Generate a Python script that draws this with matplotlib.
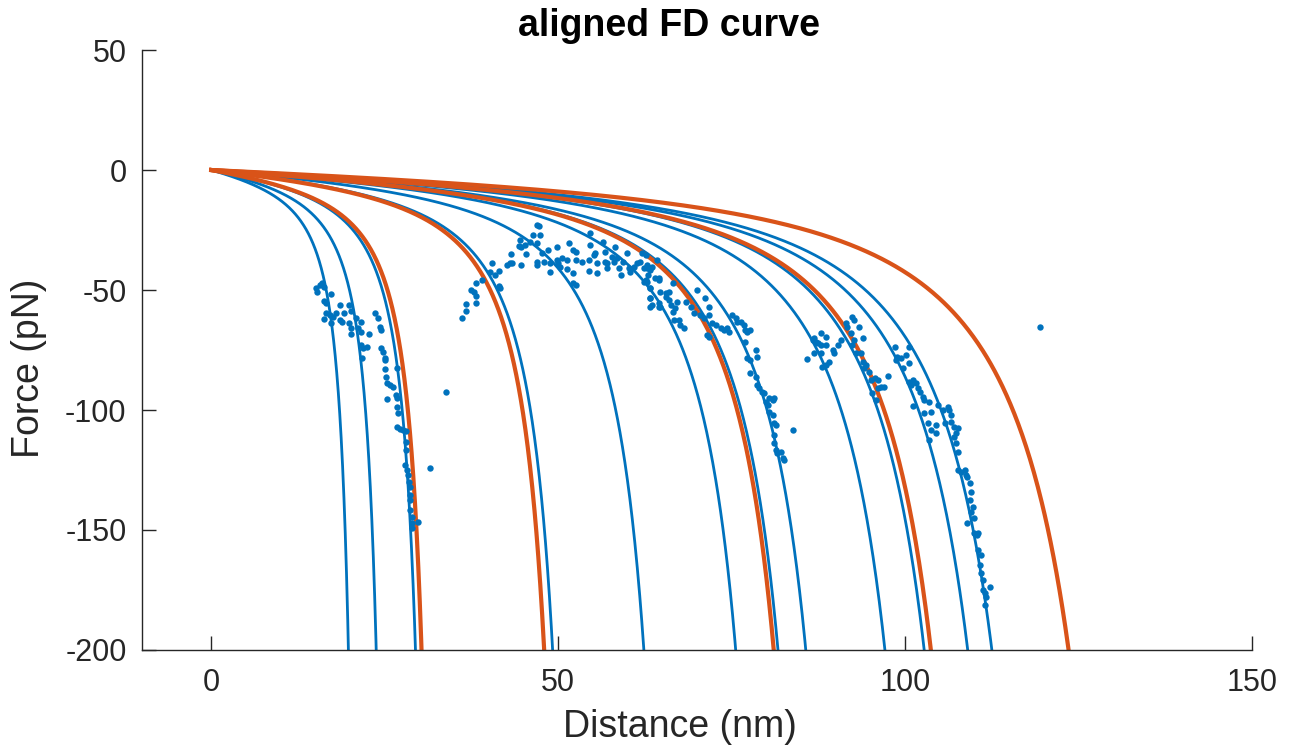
import numpy as np
import matplotlib

matplotlib.use("Agg")
import matplotlib.pyplot as plt

plt.rcParams['font.family'] = ['Liberation Sans', 'DejaVu Sans']
plt.rcParams['axes.unicode_minus'] = False

# measured force-distance points (nm, pN)
dist_nm = [
    15.1, 15.6, 16.0, 16.3, 15.3, 17.3, 16.2, 16.5, 18.5, 19.9, 16.6, 17.1, 16.2, 17.5, 17.3,
    18.0, 18.5, 18.9, 19.2, 20.2, 20.9, 21.6, 19.9, 20.2, 20.2, 21.1, 21.6, 22.8, 21.6, 21.8,
    22.4, 21.7, 23.6, 24.0, 24.3, 24.5, 24.5, 24.7, 25.1, 25.0, 25.1, 26.7, 25.2, 25.4, 25.7,
    26.2, 26.6, 26.7, 25.3, 26.7, 26.9, 26.7, 27.2, 27.6, 28.1, 28.0, 28.0, 27.9, 28.2, 28.3,
    28.5, 28.6, 28.6, 28.7, 28.7, 28.9, 28.9, 28.9, 29.8, 31.5, 33.8,
    36.1, 36.7, 36.7, 37.5, 37.8, 38.2, 38.2, 38.2, 39.0, 40.2, 40.5, 40.9, 41.4, 41.4, 41.6,
    42.6, 43.1, 43.3, 43.2, 44.7, 44.3, 44.5, 44.7, 45.2, 45.4, 46.0, 46.4, 46.9, 47.2, 46.9,
    47.4, 46.9, 46.9, 47.6, 47.9, 48.6, 48.8, 48.8, 49.8, 49.8, 50.0, 50.3, 50.5, 51.3, 51.5,
    51.3, 52.2, 52.5, 52.2, 52.5, 52.2, 52.5, 53.4, 54.4, 54.4, 54.6, 54.6, 55.1, 55.3, 55.6,
    55.6, 56.5, 56.8, 56.8, 57.0, 57.0, 57.8, 58.0, 58.2, 58.5, 58.7, 59.0, 59.4, 59.9, 60.2,
    60.4, 60.9, 61.4, 61.8, 62.1, 62.3, 62.6, 62.8, 63.0, 63.3, 63.3, 63.3, 63.5, 64.0, 64.3,
    64.5, 64.5,
    62.6, 62.8, 63.3, 63.5, 62.3, 62.8, 63.3, 64.5, 64.7, 65.5, 66.0, 66.5, 63.3, 63.3, 64.5,
    64.7, 65.5, 66.0, 66.2, 66.5, 66.9, 67.2, 68.4, 69.1, 66.7, 67.4, 67.6, 68.1, 69.6, 70.0,
    70.5, 71.0, 71.2, 71.7, 71.7, 71.5, 71.7, 72.2, 72.7, 73.4, 73.9, 74.4, 74.6, 75.1, 75.6,
    75.8, 76.3, 76.8, 77.0, 77.2, 77.7, 77.0, 77.2, 77.7, 78.5, 78.7, 77.7, 78.5, 78.7, 79.0,
    79.4, 79.7, 80.0, 80.2, 80.4, 80.9, 81.1, 80.4, 80.9, 81.1, 81.4, 81.1, 81.1, 81.4, 81.6,
    82.1, 82.4, 82.6, 83.8,
    85.9, 86.7, 86.9, 87.1, 86.9, 87.4, 87.9, 87.9, 87.9, 88.6, 88.6, 88.1, 88.6, 89.1, 89.6,
    89.8, 90.3, 90.8, 91.5, 91.7, 92.4, 92.7, 93.4, 92.2, 92.7, 93.9, 92.4, 92.9, 93.6, 93.9,
    94.1, 94.4, 94.8, 95.1, 95.6, 96.1, 96.5, 97.0, 97.5, 95.3, 95.8, 96.1,
    98.5, 98.7, 98.9, 99.4, 99.7, 100.1, 100.6, 100.6, 100.6, 100.9, 101.1, 101.6, 101.8, 102.1,
    102.6, 102.8, 101.1, 103.5, 103.8, 102.8, 103.3, 103.8, 103.5, 104.5, 104.5, 104.7, 105.4,
    105.7, 106.2, 106.4, 106.6, 106.6, 107.1, 107.4, 107.6, 107.1, 107.4, 107.6, 107.6, 108.1,
    108.6, 108.8, 109.0, 109.3, 109.5, 109.3, 109.8, 109.5, 109.0, 110.0, 110.0, 110.3, 110.5,
    110.5, 111.0, 110.8, 111.0, 111.3, 111.3, 111.5, 112.2, 111.7, 111.5,
    119.5,
]
force_pN = [
    -49.2, -47.9, -47.1, -48.8, -50.8, -51.7, -54.6, -55.4, -56.3, -56.3, -59.6, -60.4, -62.1, -61.3, -63.8,
    -59.6, -62.5, -63.3, -59.6, -58.8, -61.7, -63.3, -63.8, -65.8, -68.3, -65.8, -67.5, -68.3, -72.9, -74.2,
    -73.8, -78.3, -59.6, -61.7, -65.4, -66.7, -74.2, -75.8, -78.3, -79.2, -82.9, -82.5, -86.3, -88.8, -89.6,
    -90.4, -93.8, -95.0, -95.4, -98.8, -101.3, -107.1, -107.9, -108.3, -108.8, -113.3, -116.7, -122.9, -125.0, -127.1,
    -130.0, -132.1, -135.4, -137.5, -141.7, -144.6, -147.1, -149.2, -146.7, -124.2, -92.5,
    -61.8, -58.8, -56.0, -50.0, -50.7, -52.5, -55.3, -47.0, -45.8, -42.4, -38.9, -43.8, -42.1, -48.3, -49.3,
    -39.6, -38.9, -38.6, -35.1, -39.6, -31.5, -29.2, -32.0, -31.3, -35.1, -29.9, -27.1, -22.9, -23.3, -30.5,
    -27.1, -38.2, -39.6, -34.7, -38.2, -33.3, -42.4, -38.9, -32.0, -37.5, -38.9, -40.3, -36.8, -37.5, -30.3,
    -41.4, -33.3, -34.0, -43.0, -37.5, -47.2, -47.9, -38.2, -37.5, -42.1, -31.3, -26.4, -35.4, -34.7, -38.9,
    -43.0, -29.9, -34.0, -38.2, -38.9, -41.0, -36.1, -38.2, -32.0, -36.8, -41.0, -43.8, -38.2, -34.7, -41.0,
    -42.4, -40.3, -38.9, -38.2, -34.7, -41.0, -45.8, -39.6, -43.8, -41.0, -49.3, -53.5, -56.3, -45.1, -37.5,
    -57.0, -45.8,
    -35.4, -41.0, -41.7, -40.3, -46.5, -46.5, -49.3, -45.1, -50.7, -51.4, -50.7, -47.2, -53.5, -57.0, -55.5,
    -57.0, -52.8, -54.2, -56.3, -59.0, -57.6, -54.9, -54.9, -57.0, -62.5, -62.5, -64.6, -66.0, -59.7, -50.0,
    -60.4, -61.8, -53.5, -57.0, -60.4, -68.8, -69.4, -63.9, -64.6, -66.0, -66.7, -66.0, -67.4, -60.4, -61.8,
    -63.2, -63.2, -64.6, -66.7, -67.4, -66.7, -71.5, -78.5, -79.2, -75.0, -77.8, -84.7, -86.1, -89.6, -91.0,
    -92.4, -93.1, -96.5, -97.9, -95.1, -95.8, -95.1, -100.7, -102.1, -105.5, -106.3, -110.4, -113.9, -116.7, -118.1,
    -117.4, -120.1, -120.8, -108.3,
    -78.9, -70.8, -70.1, -71.5, -76.1, -72.2, -68.1, -72.9, -76.4, -69.5, -72.9, -82.0, -81.3, -79.9, -75.0,
    -76.4, -72.9, -70.8, -63.9, -65.3, -61.1, -62.5, -65.3, -68.1, -70.8, -70.1, -72.9, -76.4, -76.4, -79.9,
    -82.6, -81.3, -84.0, -87.5, -86.8, -87.5, -90.3, -90.3, -85.8, -93.1, -95.8, -91.0,
    -73.6, -79.2, -77.8, -78.5, -82.6, -77.1, -73.6, -80.5, -88.2, -89.6, -87.5, -88.9, -91.0, -92.4,
    -94.4, -95.8, -98.3, -96.5, -100.7, -101.4, -105.5, -108.3, -112.5, -106.3, -109.7, -97.9, -100.0,
    -105.5, -98.6, -100.0, -102.1, -104.9, -106.9, -109.7, -107.6, -111.1, -113.9, -117.4, -125.0, -125.7,
    -125.0, -127.1, -127.8, -130.5, -134.0, -137.5, -140.3, -142.4, -147.2, -145.1, -151.4, -152.1, -151.4,
    -158.3, -160.4, -164.6, -168.1, -170.8, -175.0, -176.4, -173.6, -177.8, -181.3,
    -65.4,
]

# worm-like chain fits: contour lengths (nm)
blue_Lc = [22.7, 27.3, 33.8, 56.5, 71.6, 86.8, 93.8, 98.4, 111.5, 118.0, 125.2, 129.2]
orange_Lc = [34.8, 55.1, 93.1, 119.1, 141.9]
kT = 4.1      # pN nm
Lp = 0.32     # nm, persistence length


def wlc(Lc):
    x = np.linspace(0, 0.995 * Lc, 1000)
    r = x / Lc
    f = kT / Lp * (0.25 / (1 - r) ** 2 - 0.25 + r)
    return x, -f


fig = plt.figure(figsize=(12.9, 7.49), dpi=100)
ax = fig.add_axes([0.110, 0.1322, 0.8605, 0.801])

for Lc in blue_Lc:
    x, f = wlc(Lc)
    ax.plot(x, f, color='#0072BD', lw=2.0)
for Lc in orange_Lc:
    x, f = wlc(Lc)
    ax.plot(x, f, color='#D95319', lw=3.0)
ax.plot(dist_nm, force_pN, 'o', color='#0072BD', ms=4.6, mew=0)

ax.set_xlim(-10, 150)
ax.set_ylim(-200, 50)
ax.set_xticks([0, 50, 100, 150])
ax.set_yticks([-200, -150, -100, -50, 0, 50])

dark = '#262626'
for s in ['top', 'right']:
    ax.spines[s].set_visible(False)
for s in ['left', 'bottom']:
    ax.spines[s].set_color(dark)
    ax.spines[s].set_linewidth(1.0)
ax.tick_params(direction='in', length=10, width=1.0, colors=dark, labelsize=22)
ax.tick_params(axis='x', pad=13)
ax.tick_params(axis='y', pad=11)

ax.set_xlabel('Distance (nm)', fontsize=27, color=dark, va='center')
ax.xaxis.set_label_coords(0.485, -0.128)
ax.set_ylabel('Force (pN)', fontsize=27, color=dark, va='center')
ax.yaxis.set_label_coords(-0.102, 0.47)
ax.set_title('aligned FD curve', fontsize=27, fontweight='bold', color='black',
             x=0.475, pad=10)

fig.savefig('out.png', dpi=100)
